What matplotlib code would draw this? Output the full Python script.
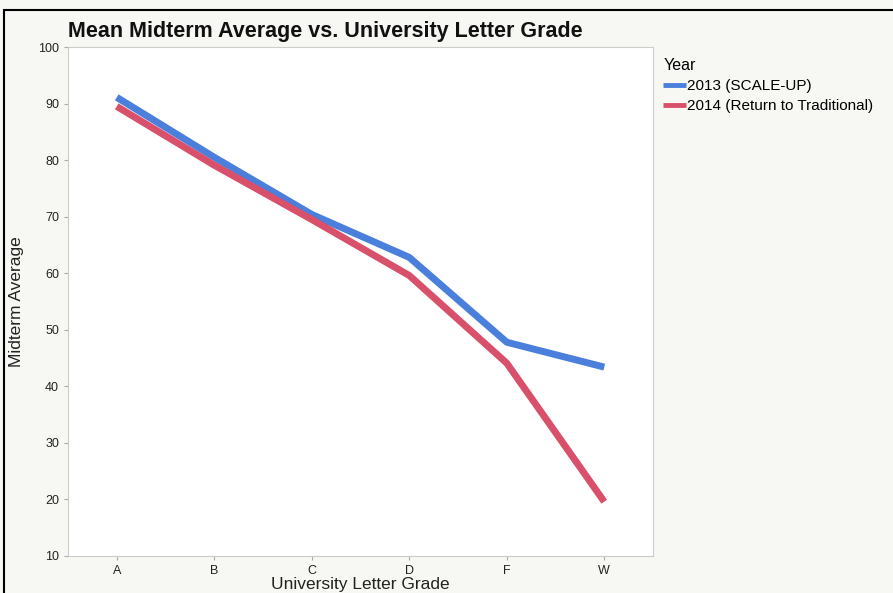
import matplotlib
matplotlib.use("Agg")
import matplotlib.pyplot as plt
from matplotlib.patches import Rectangle

plt.rcParams['font.family'] = ['Liberation Sans', 'DejaVu Sans']

grades = ['A', 'B', 'C', 'D', 'F', 'W']
y2013 = [91.1, 80.5, 70.4, 62.8, 47.8, 43.4]
y2014 = [89.5, 79.1, 69.5, 59.6, 44.1, 19.6]
series_labels = ['2013 (SCALE-UP)', '2014 (Return to Traditional)']

fig = plt.figure(figsize=(8.93, 5.93), dpi=100)
fig.patch.set_facecolor('#f7f7f3')
# screenshot frame
fig.patches.append(Rectangle((4 / 893, -0.01), 1.2, (593 - 10) / 593 + 0.01,
                             transform=fig.transFigure, fill=False,
                             edgecolor='black', linewidth=1.5))

ax = fig.add_axes([68 / 893, 1 - 556 / 593, (653 - 68) / 893, (556 - 47) / 593])
ax.set_facecolor('white')

x = range(len(grades))
ax.plot(x, y2013, color='#4a7fdc', linewidth=5, label=series_labels[0],
        solid_capstyle='butt')
ax.plot(x, y2014, color='#d9506a', linewidth=5, label=series_labels[1],
        solid_capstyle='butt')

ax.set_xlim(-0.5, 5.5)
ax.set_ylim(10, 100)
ax.set_xticks(list(x))
ax.set_xticklabels(grades)
ax.set_yticks(range(10, 101, 10))

for s in ax.spines.values():
    s.set_color('#cccccc')
ax.tick_params(axis='both', colors='#aaaaaa', labelcolor='#222222',
               labelsize=9, length=3)

ax.set_xlabel('University Letter Grade', fontsize=12.5, color='#222222', labelpad=0)
ax.set_ylabel('Midterm Average', fontsize=12.5, color='#222222', labelpad=10)

fig.text(68 / 893, 1 - 32 / 593, 'Mean Midterm Average vs. University Letter Grade',
         fontsize=15.5, fontweight='bold', va='center', ha='left', color='#111111')

leg = fig.legend(loc='upper left', bbox_to_anchor=(657 / 893, 1 - 52 / 593),
                 frameon=False, title='Year', fontsize=11, title_fontsize=11.5,
                 handlelength=1.5, handletextpad=0.05, labelspacing=0.4,
                 borderaxespad=0)
leg._legend_box.align = 'left'
for line in leg.get_lines():
    line.set_linewidth(3.5)

fig.savefig('out.png', dpi=100, facecolor=fig.get_facecolor())
